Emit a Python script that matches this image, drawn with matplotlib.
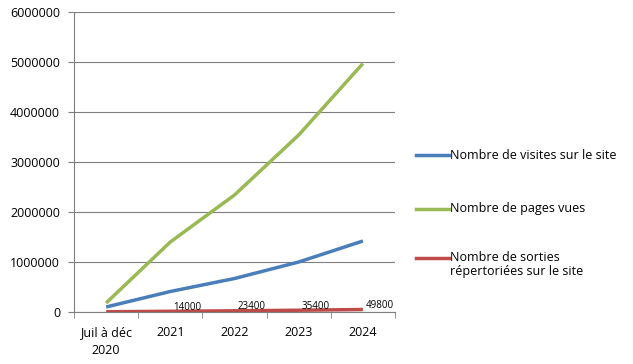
import matplotlib.pyplot as plt
from matplotlib.lines import Line2D
import numpy as np

# data
categories = ["Juil à déc\n2020", "2021", "2022", "2023", "2024"]
visites = [100000, 410000, 670000, 1000000, 1420000]
pages_vues = [180000, 1400000, 2340000, 3540000, 4970000]
sorties = [5000, 14000, 23400, 35400, 49800]
sorties_labels = ["", "14000", "23400", "35400", "49800"]

series_names = ["Nombre de visites sur le site", "Nombre de pages vues",
                "Nombre de sorties\nrépertoriées sur le site"]
colors = ["#4a7ebb", "#98b954", "#be4b48"]

plt.rcParams['font.family'] = ['Open Sans', 'DejaVu Sans']

W, H = 633, 364
fig = plt.figure(figsize=(W / 100, H / 100), dpi=100)
ax = fig.add_axes([74 / W, 52 / H, 321 / W, 300 / H])

x = np.arange(len(categories))
for vals, c in zip([visites, pages_vues, sorties], colors):
    ax.plot(x, vals, color=c, lw=2.5, solid_capstyle='butt')

for xi, v, lab in zip(x, sorties, sorties_labels):
    if lab:
        ax.annotate(lab, (xi, v), xytext=(12, 3), textcoords="offset points",
                    ha="center", va="center", fontsize=7)

ax.set_xlim(-0.5, len(categories) - 0.5)
ax.set_ylim(0, 6000000)
ax.set_yticks(np.arange(0, 6000001, 1000000))
ax.set_yticklabels([str(v) for v in range(0, 6000001, 1000000)], fontsize=9)
ax.yaxis.grid(True, color="#7f7f7f", lw=0.8)
ax.set_axisbelow(True)

ax.set_xticks(x)
ax.set_xticklabels(categories, fontsize=9, linespacing=1.5)
ax.tick_params(axis="x", length=0, pad=10)
ax.set_xticks(np.arange(-0.5, len(categories)), minor=True)
ax.tick_params(axis="x", which="minor", length=4, color="#7f7f7f")
ax.tick_params(axis="y", length=4, color="#7f7f7f", pad=6)

for s in ["top", "right"]:
    ax.spines[s].set_visible(False)
ax.spines["left"].set_color("#7f7f7f")
ax.spines["bottom"].set_color("#7f7f7f")

# legend drawn by hand so the handle sits on the first text line
legend_y = [155, 209, 258]
for name, c, yy in zip(series_names, colors, legend_y):
    fy = 1 - yy / H
    fig.add_artist(Line2D([416 / W, 449 / W], [fy, fy], color=c, lw=2.5,
                          transform=fig.transFigure))
    if "\n" in name:
        fig.text(450 / W, fy + 7 / H, name, fontsize=9, va="top", linespacing=1.05)
    else:
        fig.text(450 / W, fy, name, fontsize=9, va="center")

fig.savefig("out.png", dpi=100)
